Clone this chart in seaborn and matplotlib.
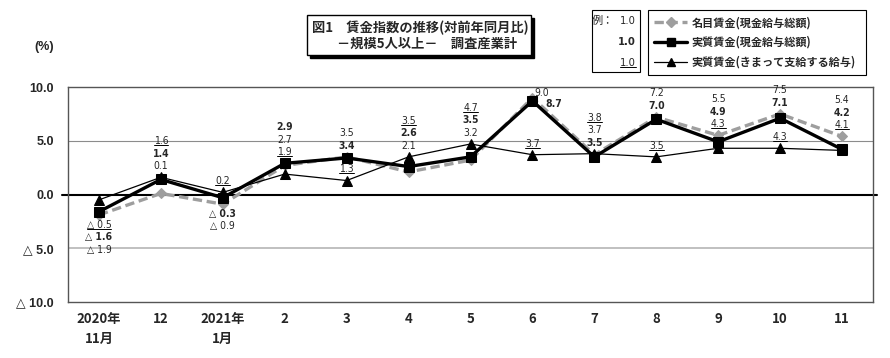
import matplotlib
matplotlib.use('Agg')
import matplotlib.pyplot as plt
import matplotlib.patches as mpatches
from matplotlib.lines import Line2D
import seaborn as sns
import pandas as pd

months = ['2020年\n11月', '12', '2021年\n1月', '2', '3', '4', '5', '6', '7', '8', '9', '10', '11']
nominal = [-1.9, 0.1, -0.9, 2.7, 3.5, 2.1, 3.2, 9.0, 3.7, 7.2, 5.5, 7.5, 5.4]
real_total = [-1.6, 1.4, -0.3, 2.9, 3.4, 2.6, 3.5, 8.7, 3.5, 7.0, 4.9, 7.1, 4.2]
real_sched = [-0.5, 1.6, 0.2, 1.9, 1.3, 3.5, 4.7, 3.7, 3.8, 3.5, 4.3, 4.3, 4.1]
series_names = ['名目賃金(現金給与総額)', '実質賃金(現金給与総額)', '実質賃金(きまって支給する給与)']
yticks = [-10, -5, 0, 5, 10]
ytick_labels = ['△ 10.0', '△ 5.0', '0.0', '5.0', '10.0']

# where the value labels sit around each month (n=nominal, r=real total, s=real scheduled)
label_layout = [
    [('below', 'srn')],
    [('above', 'srn')],
    [('above', 's'), ('below', 'rn')],
    [('above', 'rns')],
    [('above', 'nr'), ('above', 's')],
    [('above', 'srn')],
    [('above', 'srn')],
    [('right', 'nr'), ('above', 's')],
    [('above', 'snr')],
    [('above', 'nr'), ('above', 's')],
    [('above', 'nrs')],
    [('above', 'nr'), ('above', 's')],
    [('above', 'nrs')],
]

sns.set_style('white')
plt.rcParams['font.family'] = ['Noto Sans CJK JP', 'DejaVu Sans']
NUM_FONT = ['DejaVu Sans']
TICK_FONT = ['Liberation Sans', 'DejaVu Sans']

W, H = 890, 358
fig = plt.figure(figsize=(W / 100, H / 100), dpi=100)
ax = fig.add_axes([68 / W, 1 - 302 / H, (873 - 68) / W, (302 - 87) / H])

df = pd.DataFrame({'pos': range(len(months)), 'n': nominal, 'r': real_total, 's': real_sched})

sns.lineplot(data=df, x='pos', y='n', ax=ax, color='#9e9e9e', lw=2.4,
             linestyle=(0, (2.8, 1.4)), marker='D', markersize=5.5,
             markeredgecolor='#9e9e9e', zorder=3)
sns.lineplot(data=df, x='pos', y='r', ax=ax, color='black', lw=2.4,
             marker='s', markersize=6.5, markeredgecolor='black', zorder=4)
sns.lineplot(data=df, x='pos', y='s', ax=ax, color='black', lw=0.9,
             marker='^', markersize=6.5, markeredgecolor='black', zorder=5)

ax.set_xlim(-0.5, len(months) - 0.5)
ax.set_ylim(-10, 10)
ax.set_xticks(range(len(months)))
ax.set_xticklabels(months, fontsize=9.5, fontweight='bold', linespacing=1.6)
ax.set_yticks(yticks)
ax.set_yticklabels(ytick_labels, fontsize=9, fontweight='bold', family=TICK_FONT)
ax.tick_params(length=0)
ax.tick_params(axis='x', pad=7)
ax.tick_params(axis='y', pad=10)
ax.set_xlabel('')
ax.set_ylabel('')
for sp in ax.spines.values():
    sp.set_color('#555555')
    sp.set_linewidth(1.0)

ax.axhline(5, color='#8c8c8c', lw=0.8, zorder=1)
ax.axhline(-5, color='#b5b5b5', lw=1.2, zorder=1)
ax.axhline(0, xmin=-0.008, xmax=1.005, color='black', lw=1.5, zorder=2, clip_on=False)

# value labels
values = {'n': nominal, 'r': real_total, 's': real_sched}
weights = {'n': 'normal', 'r': 'bold', 's': 'normal'}


def fmt(v):
    return f'△ {abs(v):.1f}' if v < 0 else f'{v:.1f}'


LH = 9.0
underlined = []
right_offsets = {'n': (7, 3.6), 'r': (15, -2.5)}
for i, groups in enumerate(label_layout):
    for mode, keys in groups:
        vals = [values[k][i] for k in keys]
        for j, k in enumerate(keys):
            v = values[k][i]
            if mode == 'above':
                xy = (i, max(vals))
                off = (0, 8 + LH * (len(keys) - 1 - j))
            elif mode == 'below':
                xy = (i, min(vals))
                off = (0, -7 - LH * j)
            else:
                xy = (i, v)
                off = right_offsets[k]
            t = ax.annotate(fmt(v), xy=xy, xytext=off, textcoords='offset points',
                            ha='center', va='center', fontsize=7.5, fontstretch='condensed',
                            fontweight=weights[k], family=NUM_FONT, zorder=6)
            if k == 's':
                underlined.append(t)

# title box with shadow
tx0, ty0, tx1, ty1 = 307, 15, 531, 55
fig.patches.append(mpatches.Rectangle(((tx0 + 3) / W, 1 - (ty1 + 3) / H), (tx1 - tx0) / W, (ty1 - ty0) / H,
                                      transform=fig.transFigure, facecolor='black', edgecolor='black'))
fig.patches.append(mpatches.Rectangle((tx0 / W, 1 - ty1 / H), (tx1 - tx0) / W, (ty1 - ty0) / H,
                                      transform=fig.transFigure, facecolor='white', edgecolor='black', lw=1))
fig.text(420 / W, 1 - 28 / H, '図1　賃金指数の推移(対前年同月比)', ha='center', va='center',
         fontsize=9.5, fontweight='bold')
fig.text(427 / W, 1 - 44 / H, '－規模5人以上－　調査産業計', ha='center', va='center',
         fontsize=9.5, fontweight='bold')

fig.text(44 / W, 1 - 47 / H, '(%)', ha='center', va='center', fontsize=9, fontweight='bold',
         family=TICK_FONT)

# sample box showing label styles
fig.patches.append(mpatches.Rectangle((592 / W, 1 - 72 / H), 48 / W, 62 / H,
                                      transform=fig.transFigure, facecolor='white', edgecolor='black', lw=0.8))
fig.text(614 / W, 1 - 21 / H, '例：', ha='right', va='center', fontsize=8)
fig.text(636 / W, 1 - 21 / H, '1.0', ha='right', va='center', fontsize=8, family=NUM_FONT,
         fontstretch='condensed')
fig.text(636 / W, 1 - 42 / H, '1.0', ha='right', va='center', fontsize=8, family=NUM_FONT,
         fontstretch='condensed', fontweight='bold')
sample_u = fig.text(636 / W, 1 - 63 / H, '1.0', ha='right', va='center', fontsize=8, family=NUM_FONT,
                    fontstretch='condensed')
underlined.append(sample_u)

handles = [
    Line2D([], [], color='#9e9e9e', lw=2.4, linestyle=(0, (2.8, 1.4)), marker='D', markersize=5),
    Line2D([], [], color='black', lw=2.4, marker='s', markersize=6),
    Line2D([], [], color='black', lw=0.9, marker='^', markersize=6),
]
leg = fig.legend(handles, series_names, loc='upper left',
                 bbox_to_anchor=(648 / W, 1 - 72 / H, 218 / W, 62 / H), mode='expand',
                 borderaxespad=0, numpoints=1, handlelength=3.0, handletextpad=0.4,
                 labelspacing=0.6, borderpad=0.55, fancybox=False, framealpha=1,
                 edgecolor='black', prop={'size': 8, 'weight': 'bold'})
leg.get_frame().set_linewidth(0.8)

# underline the scheduled-wage labels
fig.canvas.draw()
renderer = fig.canvas.get_renderer()
inv = fig.transFigure.inverted()
for t in underlined:
    bb = t.get_window_extent(renderer)
    (x0, y0), (x1, _) = inv.transform([(bb.x0, bb.y0 + 1), (bb.x1, bb.y0 + 1)])
    fig.lines.append(Line2D([x0, x1], [y0, y0], transform=fig.transFigure, color='black', lw=0.7))

fig.savefig('out.png', dpi=100)
